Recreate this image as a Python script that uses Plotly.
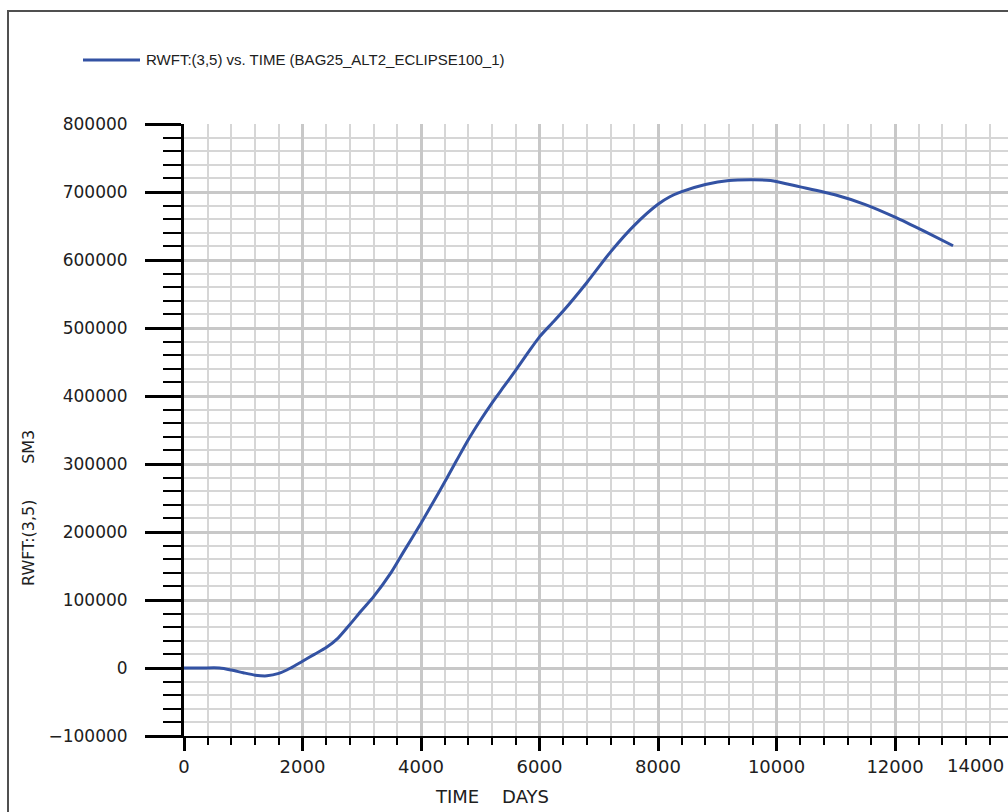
import plotly.graph_objects as go

# ---- data ----
time_days = [0, 300, 600, 800, 1000, 1200, 1400, 1600, 1800, 2000, 2200, 2400,
             2600, 2800, 3000, 3200, 3500, 3700, 4000, 4300, 4600, 4800, 5000,
             5200, 5400, 5600, 5800, 6000, 6200, 6400, 6800, 7200, 7600, 8000,
             8200, 8400, 8800, 9200, 9600, 9900, 10400, 11000, 11500, 12000,
             12500, 12980]
rwft_sm3 = [0, 0, 0, -3000, -7000, -10500, -11500, -8000, 0, 10000, 20000, 30000,
            44000, 64000, 85000, 105000, 141000, 170000, 213000, 258000, 305000,
            336000, 364000, 390000, 414000, 438000, 463000, 487000, 506000,
            525000, 567000, 612000, 651000, 682000, 693000, 700500, 711000,
            717000, 718000, 717000, 707500, 695500, 681500, 663000, 642000,
            621000]
x_ticks = [0, 2000, 4000, 6000, 8000, 10000, 12000]
y_ticks = [-100000, 0, 100000, 200000, 300000, 400000, 500000, 600000, 700000, 800000]
legend_text = "RWFT:(3,5) vs. TIME (BAG25_ALT2_ECLIPSE100_1)"
x_title = "TIME\u00a0\u00a0\u00a0\u00a0DAYS"
y_title = "RWFT:(3,5)" + "\u00a0" * 7 + "SM3"
x_end_label = "14000"

W, H = 1008, 812
ML, MR, MT, MB = 184, 0, 124, 76
PW, PH = W - ML - MR, H - MT - MB


def px(x):
    return (x - ML) / PW


def py(y):
    return (H - MB - y) / PH


LINE_COLOR = "#3352a3"

fig = go.Figure()
fig.add_trace(go.Scatter(x=time_days, y=rwft_sm3, mode="lines",
                         line=dict(color=LINE_COLOR, width=3, shape="spline", smoothing=0.7),
                         showlegend=False, name=legend_text))

fig.update_layout(
    width=W, height=H,
    margin=dict(l=ML, r=MR, t=MT, b=MB, pad=0),
    paper_bgcolor="white", plot_bgcolor="white",
    showlegend=False,
    font=dict(family="DejaVu Sans", color="#202020"),
)

fig.update_xaxes(
    range=[0, 13907], tickvals=x_ticks, ticktext=[str(v) for v in x_ticks],
    showline=True, linecolor="#000000", linewidth=2,
    ticks="outside", ticklen=13, tickwidth=3, tickcolor="#000000",
    tickfont=dict(family="DejaVu Sans", size=18, color="#202020"),
    showgrid=True, gridcolor="#c8c8c8", gridwidth=2.5, zeroline=False,
    minor=dict(dtick=400, tick0=0, ticks="outside", ticklen=7, tickwidth=2,
               tickcolor="#000000", showgrid=True, gridcolor="#d6d6d6", gridwidth=1.5),
)
fig.update_yaxes(
    range=[-100000, 800000], tickvals=y_ticks, ticktext=[str(v) if v >= 0 else "\u2212" + str(-v) for v in y_ticks],
    showline=True, linecolor="#000000", linewidth=3,
    ticks="outside", ticklen=36, tickwidth=3, tickcolor="#000000",
    ticklabelstandoff=14,
    tickfont=dict(family="DejaVu Sans", size=17, color="#202020"),
    showgrid=True, gridcolor="#c8c8c8", gridwidth=2.5, zeroline=False,
    minor=dict(dtick=20000, tick0=0, ticks="outside", ticklen=18, tickwidth=2,
               tickcolor="#000000", showgrid=True, gridcolor="#d6d6d6", gridwidth=1.5),
)

# outer frame
fig.add_shape(type="rect", xref="paper", yref="paper",
              x0=px(8), y0=py(11), x1=px(1030), y1=py(840),
              line=dict(color="#505050", width=2), fillcolor="rgba(0,0,0,0)",
              layer="above")
# legend sample line
fig.add_shape(type="line", xref="paper", yref="paper",
              x0=px(83), y0=py(60), x1=px(140), y1=py(60),
              line=dict(color=LINE_COLOR, width=3))
fig.add_annotation(text=legend_text, xref="paper", yref="paper",
                   x=px(144), y=py(60), xanchor="left", yanchor="middle",
                   showarrow=False,
                   font=dict(family="Liberation Sans", size=15, color="#202020"))
# axis titles
fig.add_annotation(text=x_title, xref="paper", yref="paper",
                   x=px(492), y=py(796), xanchor="center", yanchor="middle",
                   showarrow=False,
                   font=dict(family="DejaVu Sans", size=18, color="#202020"))
fig.add_annotation(text=y_title, xref="paper", yref="paper",
                   x=px(28), y=py(508), xanchor="center", yanchor="middle",
                   textangle=-90, showarrow=False,
                   font=dict(family="DejaVu Sans", size=16, color="#202020"))
# last x label shifted inside the frame
fig.add_annotation(text=x_end_label, xref="paper", yref="paper",
                   x=px(975), y=py(765), xanchor="center", yanchor="middle",
                   showarrow=False,
                   font=dict(family="DejaVu Sans", size=18, color="#202020"))

fig.write_html("out.html")
